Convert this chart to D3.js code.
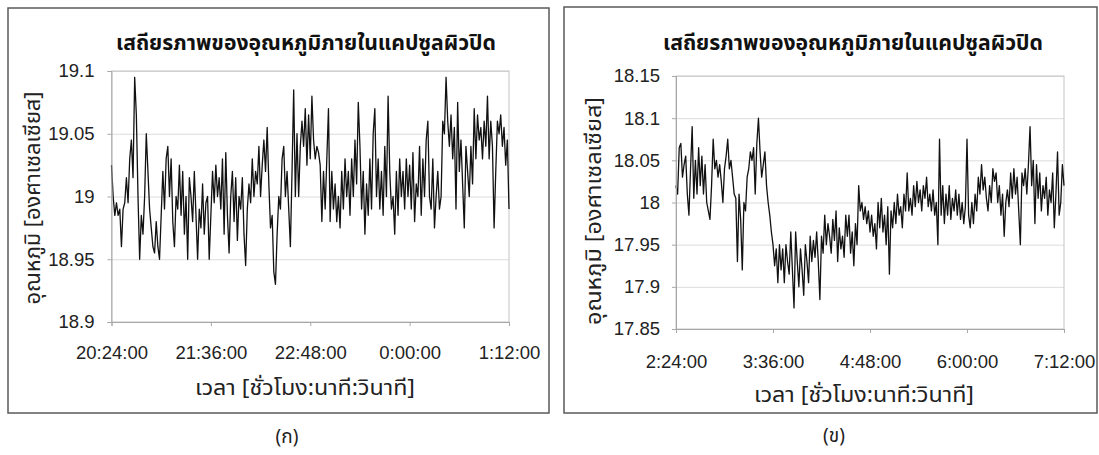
<!DOCTYPE html>
<html>
<head>
<meta charset="utf-8">
<script src="https://cdn.jsdelivr.net/npm/d3@7"></script>
<style>
  body { margin: 0; background: #fff; }
  svg { display: block; font-family: "Liberation Sans", Arial, sans-serif; }
</style>
</head>
<body>
<svg id="chart" width="1099" height="455"></svg>
<script>
const chartTitle = "เสถียรภาพของอุณหภูมิภายในแคปซูลผิวปิด";
const xTitle = "เวลา [ชั่วโมง:นาที:วินาที]";
const yTitle = "อุณหภูมิ [องศาเซลเซียส]";

// panel (ก): 20:24:00 - 1:12:00
const leftStart = new Date(2000, 0, 1, 20, 24);
const leftEnd = new Date(2000, 0, 2, 1, 12);
const leftXTicks = [
  new Date(2000, 0, 1, 20, 24), new Date(2000, 0, 1, 21, 36),
  new Date(2000, 0, 1, 22, 48), new Date(2000, 0, 2, 0, 0),
  new Date(2000, 0, 2, 1, 12)
];
const leftYTicks = [18.9, 18.95, 19, 19.05, 19.1];
const leftValues = [
  19.025, 19.0, 18.985, 18.995, 18.985, 18.99, 18.96, 18.99, 18.995, 19.015, 18.995, 19.03,
  19.045, 19.015, 19.095, 19.065, 19.0, 18.95, 18.985, 18.97, 19.0, 19.05, 19.02, 18.99,
  18.975, 18.96, 18.955, 18.98, 18.96, 18.95, 18.985, 19.02, 18.99, 19.03, 19.04, 19.0,
  19.03, 18.98, 18.96, 19.0, 18.99, 19.025, 18.985, 19.02, 18.97, 19.0, 18.95, 19.015,
  19.0, 18.98, 19.02, 18.985, 18.95, 18.99, 18.975, 19.01, 18.97, 18.995, 19.0, 18.95,
  18.985, 19.02, 18.995, 19.025, 19.0, 19.015, 18.99, 19.03, 18.97, 19.035, 18.985, 18.955,
  19.0, 19.02, 18.98, 19.015, 18.965, 19.0, 18.99, 19.015, 18.97, 18.945, 18.99, 19.01,
  18.995, 19.03, 19.0, 19.02, 19.01, 19.04, 19.0, 19.025, 19.045, 19.02, 19.055, 19.01,
  18.975, 18.985, 18.94, 18.93, 18.97, 19.0, 18.99, 19.03, 19.04, 19.0, 19.02, 18.99,
  18.96, 19.02, 19.085, 19.0, 19.05, 19.0, 19.04, 19.06, 19.04, 19.07, 19.025, 19.065,
  19.03, 19.08, 19.045, 19.03, 19.04, 19.035, 19.025, 18.98, 19.02, 18.99, 19.03, 19.07,
  18.98, 19.02, 18.99, 19.01, 18.98, 19.0, 18.975, 19.02, 18.99, 19.03, 19.0, 19.02,
  18.985, 19.03, 19.0, 19.045, 19.01, 19.075, 19.04, 18.99, 19.02, 18.97, 19.01, 18.985,
  19.03, 18.99, 19.05, 19.07, 19.0, 19.03, 18.99, 19.02, 18.985, 19.04, 19.0, 19.08,
  19.02, 18.99, 19.0, 18.97, 19.02, 18.985, 19.03, 19.0, 19.02, 18.99, 19.03, 19.0,
  19.025, 18.99, 19.035, 18.98, 19.01, 19.0, 19.04, 18.985, 19.03, 19.0, 19.045, 19.06,
  19.0, 18.99, 19.03, 18.975, 19.0, 19.02, 18.99, 19.0, 19.06, 19.05, 19.095, 19.06,
  19.04, 19.065, 19.03, 19.055, 18.99, 19.075, 19.02, 19.045, 19.01, 18.975, 19.04, 19.02,
  19.0, 19.04, 19.01, 19.07, 19.03, 19.065, 19.045, 19.055, 19.03, 19.06, 19.04, 19.08,
  19.03, 19.06, 19.04, 18.975, 19.02, 19.06, 19.05, 19.065, 19.04, 19.055, 19.025, 19.045, 18.99
];

// panel (ข): 2:24:00 - 7:12:00
const rightStart = new Date(2000, 0, 2, 2, 24);
const rightEnd = new Date(2000, 0, 2, 7, 12);
const rightXTicks = [
  new Date(2000, 0, 2, 2, 24), new Date(2000, 0, 2, 3, 36),
  new Date(2000, 0, 2, 4, 48), new Date(2000, 0, 2, 6, 0),
  new Date(2000, 0, 2, 7, 12)
];
const rightYTicks = [17.85, 17.9, 17.95, 18, 18.05, 18.1, 18.15];
const rightValues = [
  18.02, 18.01, 18.065, 18.07, 18.03, 18.045, 18.055, 18.01, 17.985, 18.04, 18.09, 18.005,
  18.05, 18.01, 18.065, 18.02, 18.055, 18.01, 18.045, 18.0, 17.99, 17.98, 18.02, 18.075,
  18.04, 18.05, 18.03, 18.045, 18.025, 18.0, 18.04, 18.055, 18.075, 18.04, 18.05, 18.03,
  18.01, 18.005, 17.93, 18.01, 17.98, 17.92, 18.0, 17.99, 18.03, 18.04, 18.06, 18.05,
  18.065, 18.01, 18.07, 18.1, 18.06, 18.03, 18.045, 18.06, 18.02, 18.0, 17.985, 17.965,
  17.95, 17.925, 17.945, 17.905, 17.95, 17.92, 17.945, 17.905, 17.95, 17.93, 17.915, 17.965,
  17.92, 17.875, 17.965, 17.93, 17.9, 17.945, 17.92, 17.89, 17.95, 17.93, 17.905, 17.96,
  17.93, 17.955, 17.935, 17.965, 17.93, 17.885, 17.96, 17.94, 17.985, 17.95, 17.975, 17.96,
  17.94, 17.98, 17.955, 17.99, 17.93, 17.97, 17.945, 17.96, 17.935, 17.985, 17.96, 17.985,
  17.94, 17.965, 17.925, 17.975, 17.95, 18.02, 17.99, 18.0, 17.98, 17.995, 17.975, 17.99,
  17.965, 17.985, 17.96, 17.975, 17.945, 18.0, 17.97, 18.005, 17.965, 17.985, 17.95, 17.995,
  17.915, 17.99, 17.97, 18.0, 17.975, 18.01, 17.985, 17.995, 17.97, 18.01, 17.99, 18.035,
  17.99, 18.005, 17.985, 18.02, 17.995, 18.025, 18.0, 18.015, 17.99, 18.02, 18.005, 18.03,
  17.995, 18.01, 17.99, 18.015, 17.985, 18.0, 17.95, 18.075, 17.985, 18.02, 17.975, 18.01,
  17.985, 18.02, 17.98, 18.005, 17.99, 18.015, 17.985, 18.01, 17.98, 18.0, 17.975, 17.995,
  18.075, 17.985, 17.97, 18.0, 17.975, 18.01, 17.99, 18.03, 18.01, 18.045, 18.015, 18.03,
  18.005, 17.99, 18.02, 18.0, 18.04, 18.025, 18.035, 18.0, 18.02, 17.985, 18.01, 17.96,
  18.0, 18.015, 17.995, 18.035, 18.005, 18.04, 18.01, 18.03, 17.99, 17.95, 18.035, 18.02,
  18.04, 18.01, 18.045, 18.09, 18.02, 18.05, 17.975, 18.045, 18.005, 18.035, 17.99, 18.02,
  18.005, 18.03, 17.985, 18.015, 18.0, 18.035, 17.97, 18.01, 18.06, 17.985, 18.0, 18.045, 18.02
];

const thaiFont = "'Noto Sans Thai', 'Noto Sans', 'DejaVu Sans', sans-serif";
const svg = d3.select("#chart");

function drawPanel(p) {
  const g = svg.append("g");

  // outer chart box
  g.append("rect")
    .attr("x", p.box[0]).attr("y", p.box[1])
    .attr("width", p.box[2] - p.box[0]).attr("height", p.box[3] - p.box[1])
    .attr("fill", "#fff").attr("stroke", "#5a5a5a").attr("stroke-width", 1.5);

  const x = d3.scaleTime().domain([p.start, p.end]).range([p.plot.left, p.plot.right]);
  const y = d3.scaleLinear().domain(d3.extent(p.yTicks)).range([p.plot.bottom, p.plot.top]);
  const w = p.plot.right - p.plot.left;

  // gridlines
  g.append("g")
    .attr("transform", `translate(${p.plot.left},0)`)
    .call(d3.axisLeft(y).tickValues(p.yTicks).tickSize(-w).tickFormat(""))
    .call((a) => a.select(".domain").remove())
    .call((a) => a.selectAll("line").attr("stroke", "#dcdcdc"));

  // plot border
  g.append("rect")
    .attr("x", p.plot.left).attr("y", p.plot.top)
    .attr("width", w).attr("height", p.plot.bottom - p.plot.top)
    .attr("fill", "none").attr("stroke", "#c4c4c4");

  const series = p.values.map((v, i) => ({
    t: new Date(+p.start + (i * (p.end - p.start)) / (p.values.length - 1)),
    v: v,
  }));

  g.append("path")
    .datum(series)
    .attr("fill", "none")
    .attr("stroke", "#111")
    .attr("stroke-width", 1.3)
    .attr("stroke-linejoin", "round")
    .attr("d", d3.line().x((d) => x(d.t)).y((d) => y(d.v)));

  // y axis
  g.append("g")
    .attr("transform", `translate(${p.plot.left},0)`)
    .call(d3.axisLeft(y).tickValues(p.yTicks).tickSize(4).tickPadding(p.yPad).tickFormat(d3.format("")))
    .call((a) => a.select(".domain").attr("stroke", "#a8a8a8"))
    .call((a) => a.selectAll("line").attr("stroke", "#a8a8a8"))
    .call((a) => a.selectAll("text").attr("font-size", 18.5).attr("fill", "#222")
      .attr("font-family", "'Liberation Sans', Arial, sans-serif"));

  // x axis
  g.append("g")
    .attr("transform", `translate(0,${p.plot.bottom})`)
    .call(d3.axisBottom(x).tickValues(p.xTicks).tickSize(4).tickPadding(p.xPad).tickFormat(d3.timeFormat("%-H:%M:%S")))
    .call((a) => a.select(".domain").attr("stroke", "#a8a8a8"))
    .call((a) => a.selectAll("line").attr("stroke", "#a8a8a8"))
    .call((a) => a.selectAll("text").attr("font-size", 18.5).attr("fill", "#222")
      .attr("font-family", "'Liberation Sans', Arial, sans-serif"));

  g.append("text")
    .attr("x", p.titleX).attr("y", p.titleY)
    .attr("text-anchor", "middle").attr("dominant-baseline", "central")
    .attr("font-family", thaiFont).attr("font-weight", "bold").attr("font-size", 22)
    .attr("textLength", 380).attr("lengthAdjust", "spacingAndGlyphs")
    .attr("fill", "#111")
    .text(chartTitle);

  g.append("text")
    .attr("x", p.xTitleX).attr("y", p.xTitleY)
    .attr("text-anchor", "middle").attr("dominant-baseline", "central")
    .attr("font-family", thaiFont).attr("font-size", 21)
    .attr("textLength", 220).attr("lengthAdjust", "spacingAndGlyphs")
    .attr("fill", "#222")
    .text(xTitle);

  g.append("text")
    .attr("transform", `translate(${p.yTitleX},${p.yTitleY}) rotate(-90)`)
    .attr("text-anchor", "middle").attr("dominant-baseline", "central")
    .attr("font-family", thaiFont).attr("font-size", 21)
    .attr("textLength", p.yTitleLen).attr("lengthAdjust", "spacingAndGlyphs")
    .attr("fill", "#222")
    .text(yTitle);

  g.append("text")
    .attr("x", p.capX).attr("y", p.capY)
    .attr("text-anchor", "middle").attr("dominant-baseline", "central")
    .attr("font-family", thaiFont).attr("font-size", 19).attr("fill", "#222")
    .text(p.caption);
}

drawPanel({
  box: [8, 8, 549, 413],
  plot: { left: 111.5, right: 509, top: 71, bottom: 322 },
  start: leftStart, end: leftEnd,
  xTicks: leftXTicks, yTicks: leftYTicks, values: leftValues,
  yPad: 13, xPad: 20,
  titleX: 306, titleY: 43,
  xTitleX: 305, xTitleY: 388,
  yTitleX: 33, yTitleY: 198, yTitleLen: 213,
  caption: "(ก)", capX: 287, capY: 437,
});

drawPanel({
  box: [564, 7, 1097, 413],
  plot: { left: 676, right: 1064, top: 76, bottom: 329 },
  start: rightStart, end: rightEnd,
  xTicks: rightXTicks, yTicks: rightYTicks, values: rightValues,
  yPad: 12, xPad: 22,
  titleX: 853, titleY: 43,
  xTitleX: 864, xTitleY: 395,
  yTitleX: 594, yTitleY: 211, yTitleLen: 228,
  caption: "(ข)", capX: 834, capY: 436,
});
</script>
</body>
</html>
